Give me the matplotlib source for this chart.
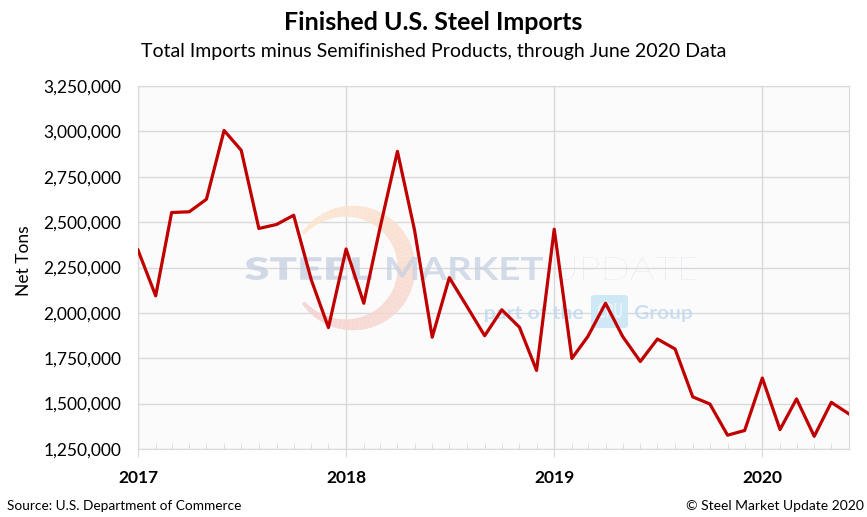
import numpy as np
import pandas as pd
import matplotlib
matplotlib.use("Agg")
import matplotlib.pyplot as plt
import matplotlib.dates as mdates
from matplotlib.patches import PathPatch, Polygon, FancyBboxPatch
from matplotlib.textpath import TextPath
from matplotlib.font_manager import FontProperties
from matplotlib.transforms import Affine2D
from matplotlib.ticker import FuncFormatter, MultipleLocator

plt.rcParams['font.family'] = ['Lato', 'DejaVu Sans']

W, H = 867, 517

# monthly finished steel imports, Jan 2017 .. Jun 2020 (net tons)
months = pd.date_range('2017-01-01', '2020-06-01', freq='MS')
imports = [
    2346000, 2094000, 2553000, 2557000, 2626000, 3005000,
    2896000, 2465000, 2487000, 2538000, 2181000, 1919000,
    2352000, 2053000, 2462000, 2890000, 2456000, 1866000,
    2194000, 2035000, 1874000, 2017000, 1921000, 1683000,
    2461000, 1749000, 1870000, 2053000, 1870000, 1732000,
    1856000, 1801000, 1537000, 1498000, 1326000, 1352000,
    1641000, 1357000, 1526000, 1320000, 1507000, 1443000,
]
year_ticks = pd.to_datetime(['2017-01-01', '2018-01-01', '2019-01-01', '2020-01-01'])
year_labels = ['2017', '2018', '2019', '2020']


def px(x, y):
    # pixel position (from top-left) -> figure fraction
    return x / W, 1 - y / H


def fit_text(ax, s, x0, x1, ytop, ybot, weight, color, alpha=0.75):
    # text squeezed into a pixel box, for the faint logo behind the line
    tp = TextPath((0, 0), s, size=100, prop=FontProperties(family='Lato', weight=weight))
    bb = tp.get_extents()
    tr = (Affine2D().translate(-bb.x0, -bb.y0)
          .scale((x1 - x0) / bb.width, (ybot - ytop) / bb.height)
          .translate(x0, H - ybot).scale(1 / W, 1 / H))
    ax.add_patch(PathPatch(tr.transform_path(tp), transform=ax.figure.transFigure,
                           facecolor=color, edgecolor='none', alpha=alpha, zorder=2))


fig = plt.figure(figsize=(W / 100, H / 100), dpi=100)
ax = fig.add_axes([138 / W, 1 - 449 / H, (849 - 138) / W, (449 - 86) / H])
ax.set_facecolor('#fbfbfb')

# watermark: crescent with orange -> red shading
cx, cy, r = 353, 268, 62
angs = np.linspace(145, -145, 70)
c_top = np.array([253, 230, 205]) / 255
c_bot = np.array([244, 208, 208]) / 255
for i in range(len(angs) - 1):
    a = np.radians(angs[i:i + 2])
    mid = (angs[i] + angs[i + 1]) / 2
    t = 3 + 14 * np.cos(np.radians(angs[i:i + 2] / 145 * 90))
    pts = [(cx + r * np.cos(a[0]), cy - r * np.sin(a[0])),
           (cx + r * np.cos(a[1]), cy - r * np.sin(a[1])),
           (cx + (r - t[1]) * np.cos(a[1]), cy - (r - t[1]) * np.sin(a[1])),
           (cx + (r - t[0]) * np.cos(a[0]), cy - (r - t[0]) * np.sin(a[0]))]
    f = (145 - mid) / 290
    col = c_top * (1 - f) + c_bot * f
    ax.add_patch(Polygon([px(*p) for p in pts], closed=True, transform=fig.transFigure,
                         facecolor=col, edgecolor=col, lw=0.4, alpha=0.8, zorder=2))

fit_text(ax, 'STEEL', 245, 372, 257, 280, 'heavy', '#c3cde0')
fit_text(ax, 'MARKET', 387, 543, 257, 280, 'bold', '#c6d0e2')
fit_text(ax, 'UPDATE', 555, 697, 257, 280, 'light', '#cdd6e6')
fit_text(ax, 'part of the', 485, 583, 305, 322, 'bold', '#bcd6ee')
fit_text(ax, 'Group', 635, 692, 305, 322, 'bold', '#bcd6ee')
ax.add_patch(FancyBboxPatch(px(591, 328), 37 / W, 33 / H, boxstyle='round,pad=0,rounding_size=0.005',
                            transform=fig.transFigure, facecolor='#c6e5f6', edgecolor='none',
                            alpha=0.85, zorder=2))
fit_text(ax, 'CRU', 598, 622, 303, 318, 'bold', '#eef7fc', alpha=0.9)

ax.plot(months, imports, color='#c00000', lw=2.3, zorder=3)

ax.set_xlim(pd.Timestamp('2017-01-01'), pd.Timestamp('2020-06-01'))
ax.set_ylim(1250000, 3250000)
ax.yaxis.set_major_locator(MultipleLocator(250000))
ax.yaxis.set_major_formatter(FuncFormatter(lambda v, p: f'{int(v):,}'))
ax.set_xticks(year_ticks)
ax.set_xticklabels(year_labels, fontweight='bold', fontsize=12.5)
ax.xaxis.set_minor_locator(mdates.MonthLocator())
ax.tick_params(axis='x', which='major', direction='out', length=6, color='#d9d9d9', pad=9)
ax.tick_params(axis='x', which='minor', direction='in', length=4, color='#d9d9d9')
ax.tick_params(axis='y', length=0, labelsize=12.5, pad=12)
ax.grid(True, which='major', color='#d9d9d9', lw=1, zorder=0)
for s in ax.spines.values():
    s.set_color('#d9d9d9')
    s.set_zorder(0.5)

ax.set_ylabel('Net Tons', fontsize=12.5)
ax.yaxis.set_label_coords(-(138 - 32) / 711, 0.52)

fig.text(0.5, 1 - 22 / H, 'Finished U.S. Steel Imports', ha='center', va='center', fontsize=18, fontweight='bold')
fig.text(0.5, 1 - 52 / H, 'Total Imports minus Semifinished Products, through June 2020 Data', ha='center',
         va='center', fontsize=14)
fig.text(7 / W, 1 - 506 / H, 'Source: U.S. Department of Commerce', ha='left', va='center', fontsize=9.8)
fig.text(864 / W, 1 - 506 / H, '\u00a9 Steel Market Update 2020', ha='right', va='center', fontsize=10)

plt.savefig('out.png', dpi=100)
